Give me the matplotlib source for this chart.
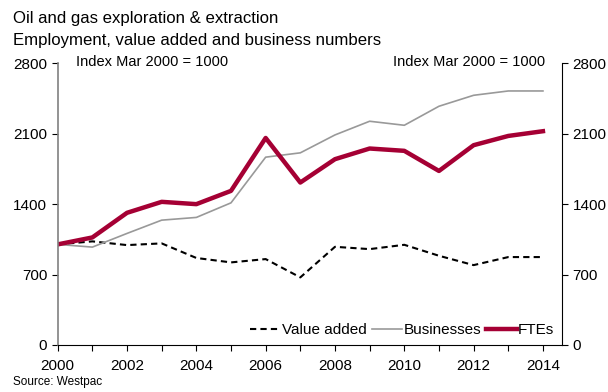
import matplotlib
matplotlib.use("Agg")
import matplotlib.pyplot as plt

plt.rcParams['font.family'] = ['Liberation Sans', 'DejaVu Sans']

years = list(range(2000, 2015))
value_added = [1000, 1030, 993, 1010, 865, 821, 854, 672, 976, 953, 996, 887, 794, 874, 874]
businesses = [1000, 973, 1109, 1241, 1268, 1413, 1867, 1910, 2088, 2224, 2184, 2373, 2482, 2525, 2525]
ftes = [1000, 1069, 1314, 1423, 1400, 1532, 2058, 1615, 1847, 1953, 1930, 1730, 1986, 2078, 2125]
y_ticks = [0, 700, 1400, 2100, 2800]
x_labels = [str(y) if y % 2 == 0 else "" for y in years]

fig = plt.figure(figsize=(6.08, 3.92), dpi=100)
ax = fig.add_axes([57.7 / 608, 47 / 392, (562 - 57.7) / 608, (345 - 63.3) / 392])

ax.plot(years, value_added, color='black', lw=1.5, ls=(0, (3, 2)), label='Value added')
ax.plot(years, businesses, color='#999999', lw=1.2, label='Businesses')
ax.plot(years, ftes, color='#A50034', lw=3.2, label='FTEs')

ax.set_xlim(2000, 2014.55)
ax.set_ylim(0, 2800)
ax.set_yticks(y_ticks)
ax.set_xticks(years)
ax.set_xticklabels(x_labels)
ax.tick_params(axis='both', labelsize=11, length=4, direction='out', colors='black')
ax.tick_params(axis='x', pad=6)

for s in ['top', 'right']:
    ax.spines[s].set_visible(False)
ax.spines['left'].set_color('#808080')
ax.spines['left'].set_linewidth(1.2)
ax.spines['bottom'].set_color('black')

ax2 = ax.twinx()
ax2.set_ylim(0, 2800)
ax2.set_yticks(y_ticks)
ax2.tick_params(axis='y', labelsize=11, length=4, direction='out')
for s in ['top', 'left', 'bottom']:
    ax2.spines[s].set_visible(False)
ax2.spines['right'].set_color('black')

fig.text(76 / 608, 1 - 62 / 392, "Index Mar 2000 = 1000",
         fontsize=10.5, ha='left', va='center')
fig.text(545 / 608, 1 - 62 / 392, "Index Mar 2000 = 1000",
         fontsize=10.5, ha='right', va='center')

leg = ax.legend(loc='lower right', frameon=False, fontsize=11, ncol=3,
                handlelength=2.0, handletextpad=0.1, columnspacing=0.3,
                borderaxespad=0.1)

fig.text(13 / 608, 1 - 19 / 392, "Oil and gas exploration & extraction",
         fontsize=12.1, ha='left', va='center')
fig.text(13 / 608, 1 - 40 / 392, "Employment, value added and business numbers",
         fontsize=12.1, ha='left', va='center')
fig.text(13 / 608, 1 - 382 / 392, "Source: Westpac", fontsize=8.5,
         ha='left', va='center')

fig.savefig("out.png", dpi=100)
